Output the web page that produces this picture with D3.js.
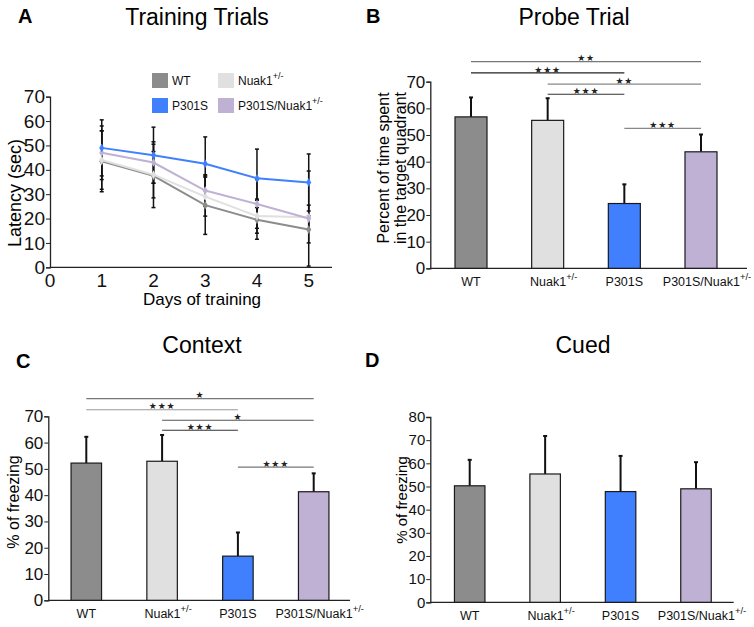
<!DOCTYPE html>
<html>
<head>
<meta charset="utf-8">
<script src="https://cdn.jsdelivr.net/npm/d3@7"></script>
<style>
  body { margin: 0; background: #fff; }
  svg { font-family: "Liberation Sans", Arial, sans-serif; display: block; }
</style>
</head>
<body>
<div id="chart"></div>
<script>
// groups / colours shared by every panel
const groups = ['WT', 'Nuak1', 'P301S', 'P301S/Nuak1'];
const groupSup = ['', '+/-', '', '+/-'];
const groupColors = ['#8c8c8c', '#e0e0e0', '#4080ff', '#bfb1d4'];

// A: training trials (latency, sec)
const days = [1, 2, 3, 4, 5];
const latencyWT = [43.5, 37.5, 25.5, 19.5, 15.5];
const latencyNuak = [44, 38, 29, 21, 20.5];
const latencyP301S = [49, 46, 42.5, 36.5, 34.8];
const latencyDouble = [47, 43, 31.5, 26, 20];
const sdWT = [12.5, 13, 12, 8, 5.5];
const sdNuak = [12, 9.5, 8, 7, 5];
const sdP301S = [11.5, 11.5, 11, 12, 11.7];
const sdDouble = [11, 8.5, 6.5, 10, 19.5];
const xTicksA = [0, 1, 2, 3, 4, 5];
const yTicks70 = [0, 10, 20, 30, 40, 50, 60, 70];
const yTicks80 = [0, 10, 20, 30, 40, 50, 60, 70, 80];

// B: probe trial
const probeMeans = [56.8, 55.5, 24.3, 43.7];
const probeErr = [7.3, 8.3, 7.2, 6.5];
const probeSig = [
  { from: 0, to: 3, level: 77.5, label: '**', color: '#777' },
  { from: 0, to: 2, level: 73.3, label: '***', color: '#222' },
  { from: 1, to: 3, level: 69.1, label: '**', color: '#888' },
  { from: 1, to: 2, level: 65.3, label: '***', color: '#333' },
  { from: 2, to: 3, level: 52.5, label: '***', color: '#888' }
];

// C: contextual fear
const contextMeans = [52.2, 52.9, 16.8, 41.3];
const contextErr = [10, 10, 9, 7];
const contextSig = [
  { from: 0, to: 3, level: 76.7, label: '*', color: '#777' },
  { from: 0, to: 2, level: 72.5, label: '***', color: '#999' },
  { from: 1, to: 3, level: 68.5, label: '*', color: '#555' },
  { from: 1, to: 2, level: 64.7, label: '***', color: '#333' },
  { from: 2, to: 3, level: 50.7, label: '***', color: '#777' }
];

// D: cued fear
const cuedMeans = [50.3, 55.4, 47.8, 49];
const cuedErr = [11.2, 16.4, 15.4, 11.5];

const W = 754, H = 627;
const svg = d3.select('#chart').append('svg')
  .attr('width', W).attr('height', H);

function panelLetter(letter, x, y) {
  svg.append('text').attr('x', x).attr('y', y)
    .attr('font-size', 20).attr('font-weight', 'bold').text(letter);
}

function panelTitle(title, x, y) {
  svg.append('text').attr('x', x).attr('y', y)
    .attr('text-anchor', 'middle').attr('font-size', 23).text(title);
}

function labelWithSup(sel, i) {
  sel.append('tspan').text(groups[i]);
  if (groupSup[i]) {
    sel.append('tspan').attr('dy', -6).attr('font-size', '0.75em').text(groupSup[i]);
  }
}

function yAxis(g, y, ticks, x0, fontSize) {
  const ax = g.append('g').attr('transform', `translate(${x0},0)`)
    .call(d3.axisLeft(y).tickValues(ticks).tickSize(4).tickPadding(1));
  ax.attr('font-family', null).attr('font-size', null);
  ax.select('.domain').attr('stroke', '#222').attr('stroke-width', 1.3);
  ax.selectAll('.tick line').attr('stroke', '#222');
  ax.selectAll('.tick text').attr('font-size', fontSize).attr('fill', '#111');
  return ax;
}

// ---------- Panel A: line chart ----------
(function drawTraining() {
  panelLetter('A', 18, 23);
  panelTitle('Training Trials', 197, 25);

  const x = d3.scaleLinear().domain([0, 5.45]).range([50, 332]);
  const y = d3.scaleLinear().domain([0, 70]).range([267.3, 96.7]);
  const g = svg.append('g');

  yAxis(g, y, yTicks70, 50, 19);
  g.append('line').attr('x1', 50).attr('x2', 332)
    .attr('y1', y(0)).attr('y2', y(0)).attr('stroke', '#222').attr('stroke-width', 1.3);
  g.selectAll('.xt').data(xTicksA).join('text')
    .attr('x', d => x(d)).attr('y', 287)
    .attr('text-anchor', 'middle').attr('font-size', 19).attr('fill', '#111')
    .text(d => d);

  g.append('text').attr('x', 202).attr('y', 305).attr('text-anchor', 'middle')
    .attr('font-size', 17).text('Days of training');
  g.append('text').attr('transform', 'translate(21,193) rotate(-90)')
    .attr('text-anchor', 'middle').attr('font-size', 18).text('Latency (sec)');

  const series = [
    { means: latencyWT, sd: sdWT, color: groupColors[0] },
    { means: latencyNuak, sd: sdNuak, color: groupColors[1] },
    { means: latencyDouble, sd: sdDouble, color: groupColors[3] },
    { means: latencyP301S, sd: sdP301S, color: groupColors[2] }
  ];

  // error bars underneath the lines
  series.forEach(s => {
    days.forEach((d, i) => {
      const lo = Math.max(0, s.means[i] - s.sd[i]);
      const hi = s.means[i] + s.sd[i];
      g.append('line').attr('x1', x(d)).attr('x2', x(d))
        .attr('y1', y(lo)).attr('y2', y(hi))
        .attr('stroke', '#111').attr('stroke-width', 1.5);
      [lo, hi].forEach(v => g.append('line')
        .attr('x1', x(d) - 2).attr('x2', x(d) + 2)
        .attr('y1', y(v)).attr('y2', y(v))
        .attr('stroke', '#111').attr('stroke-width', 1.5));
    });
  });

  const line = d3.line().x((d, i) => x(days[i])).y(d => y(d));
  series.forEach(s => {
    g.append('path').datum(s.means).attr('d', line)
      .attr('fill', 'none').attr('stroke', s.color).attr('stroke-width', 2);
    g.selectAll(null).data(s.means).join('path')
      .attr('d', d3.symbol(d3.symbolDiamond, 22))
      .attr('transform', (d, i) => `translate(${x(days[i])},${y(d)})`)
      .attr('fill', s.color);
  });

  // legend
  const legendPos = [[152, 73], [218, 73], [152, 98], [218, 98]];
  groups.forEach((name, i) => {
    const [lx, ly] = legendPos[i];
    g.append('rect').attr('x', lx).attr('y', ly).attr('width', 16).attr('height', 15)
      .attr('fill', groupColors[i]);
    const t = g.append('text').attr('x', lx + 20).attr('y', ly + 12)
      .attr('font-size', 12).attr('fill', '#111');
    labelWithSup(t, i);
  });
})();

// ---------- bar panels ----------
function drawBarPanel(opt) {
  const g = svg.append('g');
  const x = d3.scalePoint().domain(groups).range(opt.centers);
  const y = d3.scaleLinear().domain([0, opt.yMax]).range([opt.y0, opt.yTop]);
  const bw = opt.barWidth;

  yAxis(g, y, opt.ticks, opt.axisX, opt.tickFont);
  g.append('line').attr('x1', opt.axisX).attr('x2', opt.axisEnd)
    .attr('y1', y(0)).attr('y2', y(0)).attr('stroke', '#222').attr('stroke-width', 1.3);

  // error bars (upper only)
  groups.forEach((name, i) => {
    const cx = x(name);
    const top = opt.means[i] + opt.err[i];
    g.append('line').attr('x1', cx).attr('x2', cx)
      .attr('y1', y(opt.means[i])).attr('y2', y(top))
      .attr('stroke', '#111').attr('stroke-width', 2);
    g.append('line').attr('x1', cx - 2).attr('x2', cx + 2)
      .attr('y1', y(top)).attr('y2', y(top))
      .attr('stroke', '#111').attr('stroke-width', 2);
  });

  g.selectAll('.bar').data(opt.means).join('rect')
    .attr('x', (d, i) => x(groups[i]) - bw / 2)
    .attr('y', d => y(d))
    .attr('width', bw)
    .attr('height', d => y(0) - y(d))
    .attr('fill', (d, i) => groupColors[i])
    .attr('stroke', '#1a1a1a').attr('stroke-width', 1.2);

  groups.forEach((name, i) => {
    const t = g.append('text').attr('x', x(name) + (groupSup[i] ? 6 : 0))
      .attr('y', y(0) + 18).attr('text-anchor', 'middle')
      .attr('font-size', 12.5).attr('fill', '#111');
    labelWithSup(t, i);
  });

  (opt.sig || []).forEach(s => {
    const x1 = x(groups[s.from]);
    const x2 = x(groups[s.to]);
    const ly = y(s.level);
    g.append('line').attr('x1', x1).attr('x2', x2).attr('y1', ly).attr('y2', ly)
      .attr('stroke', s.color).attr('stroke-width', 1.2);
    g.append('text').attr('x', (x1 + x2) / 2).attr('y', ly - 0.3)
      .attr('text-anchor', 'middle').attr('font-size', 9)
      .attr('font-family', '"DejaVu Sans", sans-serif')
      .attr('letter-spacing', 0.8).attr('fill', '#222')
      .text('★'.repeat(s.label.length));
  });

  opt.yLabel.forEach((lbl, k) => {
    g.append('text')
      .attr('transform', `translate(${opt.yLabelX + k * 17},${opt.yLabelY}) rotate(-90)`)
      .attr('text-anchor', 'middle').attr('font-size', opt.yLabelFont).text(lbl);
  });
}

panelLetter('B', 366, 23);
panelTitle('Probe Trial', 574, 25);
drawBarPanel({
  centers: [471, 701], barWidth: 32,
  yMax: 70, y0: 268.3, yTop: 81.7, ticks: yTicks70, tickFont: 17,
  axisX: 430.3, axisEnd: 747,
  means: probeMeans, err: probeErr, sig: probeSig,
  yLabel: ['Percent of time spent', 'in the target quadrant'],
  yLabelX: 389, yLabelY: 168, yLabelFont: 16
});

panelLetter('C', 16, 368);
panelTitle('Context', 202, 353);
drawBarPanel({
  centers: [86.3, 313.7], barWidth: 30.5,
  yMax: 70, y0: 600.3, yTop: 416.3, ticks: yTicks70, tickFont: 17,
  axisX: 48.3, axisEnd: 350,
  means: contextMeans, err: contextErr, sig: contextSig,
  yLabel: ['% of freezing'],
  yLabelX: 19, yLabelY: 502, yLabelFont: 16
});

panelLetter('D', 365, 367);
panelTitle('Cued', 583, 353);
drawBarPanel({
  centers: [469.7, 696], barWidth: 30.5,
  yMax: 80, y0: 602.3, yTop: 417, ticks: yTicks80, tickFont: 15,
  axisX: 430.3, axisEnd: 733.7,
  means: cuedMeans, err: cuedErr,
  yLabel: ['% of freezing'],
  yLabelX: 407, yLabelY: 500, yLabelFont: 15
});
</script>
</body>
</html>
